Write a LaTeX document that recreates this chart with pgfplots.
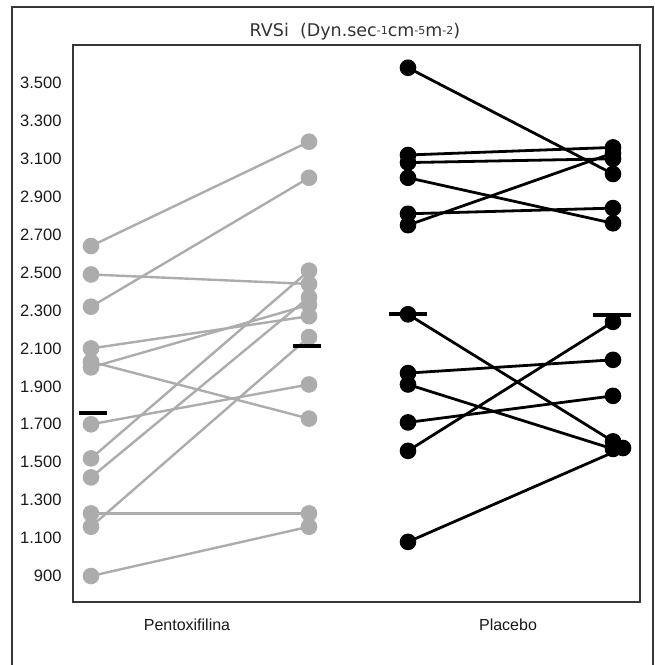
\documentclass[border=0pt]{standalone}
\usepackage{pgfplots}
\pgfplotsset{compat=1.18}
\usepackage{fontspec}
\setmainfont{Liberation Sans}
\newfontfamily\titlefont{DejaVu Sans}
\definecolor{ptx}{RGB}{172,172,172}
\definecolor{framec}{RGB}{55,55,55}
\pgfplotsset{
  ptxline/.style={color=ptx, line width=2.4pt, mark=*, mark size=7.8pt, mark options={solid, fill=ptx, draw=ptx, line width=1pt}},
  plcline/.style={color=black, line width=2.8pt, mark=*, mark size=7.8pt, mark options={solid, fill=black, draw=black, line width=1pt}}
}
\begin{document}
\begin{tikzpicture}[x=1pt,y=1pt]
\useasboundingbox (0,0) rectangle (655,665);
\draw[line width=1.5pt, color=framec] (12,0) -- (12,658) -- (653,658) -- (653,0);
\node[font=\titlefont\fontsize{17.5}{20}\selectfont, color=black!80, anchor=base, inner sep=0pt] at (355,628)
  {RVSi\ \ (Dyn.sec\raisebox{0.3ex}{\fontsize{11}{13}\selectfont -1}cm\raisebox{0.3ex}{\fontsize{11}{13}\selectfont -5}m\raisebox{0.3ex}{\fontsize{11}{13}\selectfont -2})};
\begin{axis}[
  at={(73pt,63pt)}, anchor=south west,
  width=567pt, height=557pt, scale only axis,
  xmin=73, xmax=640, ymin=763, ymax=3700,
  axis line style={line width=2.2pt, color=framec},
  clip=false,
  scaled y ticks=false,
  ytick={900,1100,...,3500},
  /pgf/number format/1000 sep={.},
  /pgf/number format/assume math mode=true,
  yticklabel style={font=\fontsize{16.5}{18}\selectfont, color=black!90, xshift=-8pt},
  xtick={187,508},
  xticklabels={Pentoxifilina,Placebo},
  xticklabel style={font=\fontsize{16}{18}\selectfont, color=black!90, yshift=-13pt},
  major tick length=0pt,
  tick style={draw=none},
]
% Pentoxifilina
\addplot[ptxline] coordinates {(91,2640) (309,3190)};
\addplot[ptxline] coordinates {(91,2320) (309,3000)};
\addplot[ptxline] coordinates {(91,2490) (309,2440)};
\addplot[ptxline] coordinates {(91,2100) (309,2270)};
\addplot[ptxline] coordinates {(91,2000) (309,2330)};
\addplot[ptxline] coordinates {(91,2030) (309,1730)};
\addplot[ptxline] coordinates {(91,1700) (309,1910)};
\addplot[ptxline] coordinates {(91,1520) (309,2510)};
\addplot[ptxline] coordinates {(91,1420) (309,2370)};
\addplot[ptxline] coordinates {(91,1160) (309,2160)};
\addplot[ptxline] coordinates {(91,1230) (309,1230)};
\addplot[ptxline] coordinates {(91,900) (309,1160)};
% Placebo
\addplot[plcline] coordinates {(408,3580) (613,3020)};
\addplot[plcline] coordinates {(408,3120) (613,3160)};
\addplot[plcline] coordinates {(408,3080) (613,3100)};
\addplot[plcline] coordinates {(408,3000) (613,2760)};
\addplot[plcline] coordinates {(408,2810) (613,2840)};
\addplot[plcline] coordinates {(408,2750) (613,3130)};
\addplot[plcline] coordinates {(408,2280) (613,1610)};
\addplot[plcline] coordinates {(408,1970) (613,2040)};
\addplot[plcline] coordinates {(408,1910) (613,1570)};
\addplot[plcline] coordinates {(408,1710) (613,1850)};
\addplot[plcline] coordinates {(408,1560) (613,2240)};
\addplot[plcline] coordinates {(408,1080) (623,1575)};
% means
\addplot[only marks, mark=-, mark size=14pt, mark options={line width=3.5pt, black}] coordinates {(93,1760) (307,2113)};
\addplot[only marks, mark=-, mark size=19pt, mark options={line width=3.5pt, black}] coordinates {(408,2282) (612,2277)};
\end{axis}
\end{tikzpicture}
\end{document}
